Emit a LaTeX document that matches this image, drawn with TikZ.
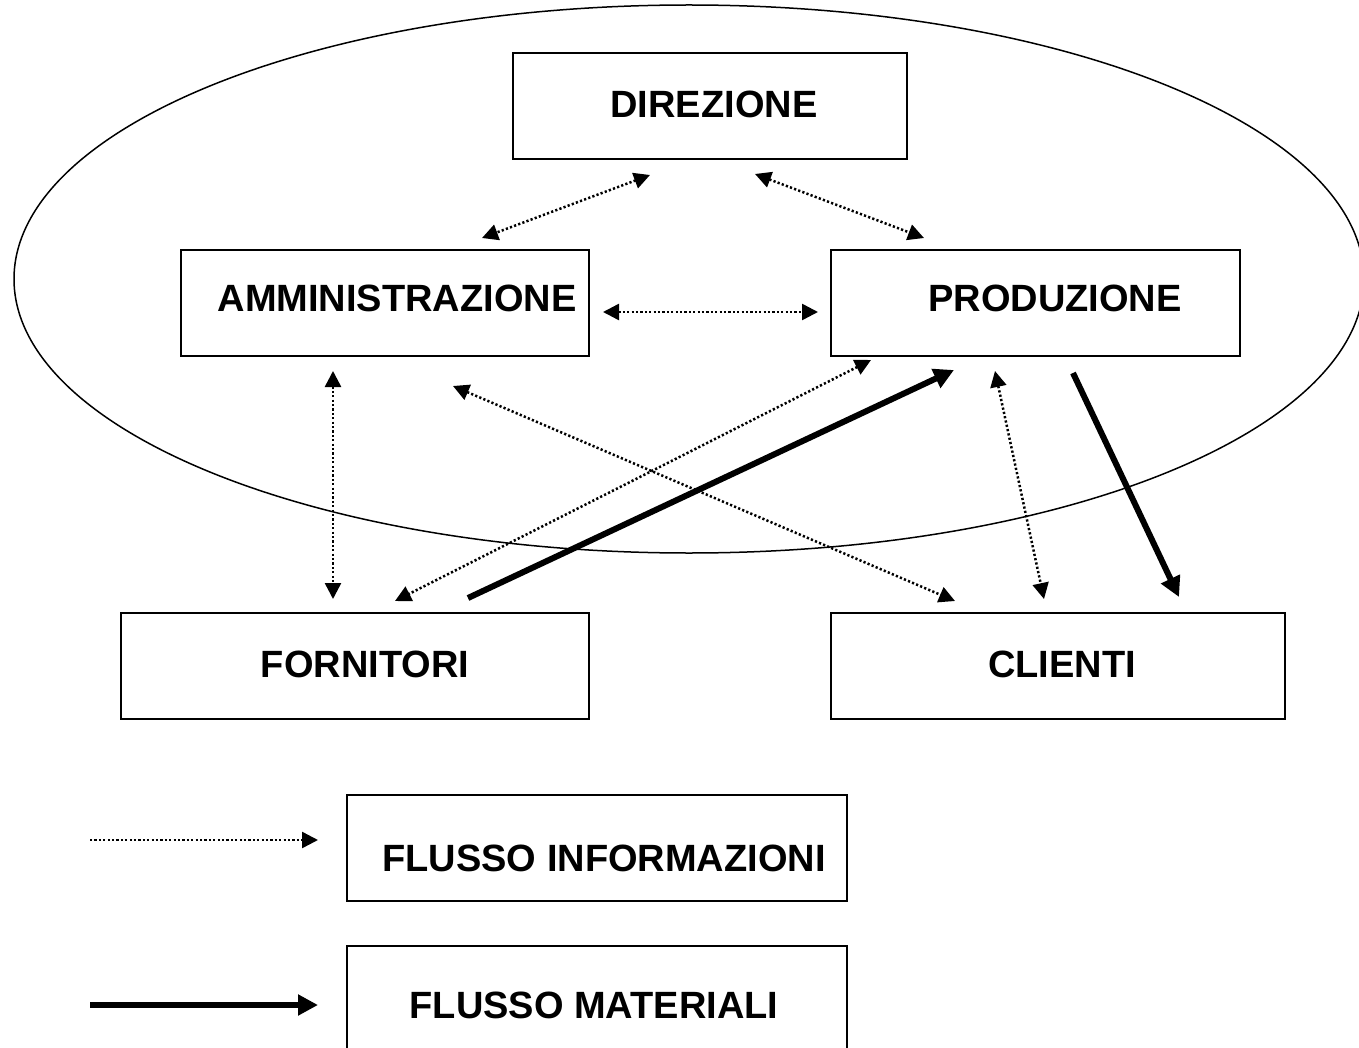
\documentclass[tikz,border=0pt]{standalone}
\usepackage{fontspec}
\setmainfont{Liberation Sans}
\usetikzlibrary{arrows.meta}
\begin{document}
\begin{tikzpicture}[x=0.5pt,y=-0.5pt,
  box/.style={draw,line width=1pt,inner sep=0pt},
  lbl/.style={inner sep=0pt,anchor=center,font=\fontsize{19}{23}\selectfont\bfseries},
  info/.style={line width=1.25pt,dash pattern=on 1.1pt off 1.1pt,{Triangle[length=8pt,width=8pt]}-{Triangle[length=8pt,width=8pt]}},
  infoone/.style={line width=1.25pt,dash pattern=on 1.1pt off 1.1pt,-{Triangle[length=8pt,width=8pt]}},
  mat/.style={line width=3pt,-{Triangle[length=10pt,width=10pt]}}]
\useasboundingbox (0,0) rectangle (1359,1048);
\fill[white] (0,0) rectangle (1359,1048);
% ellipse
\draw[line width=0.75pt] (689,279) ellipse [x radius=675, y radius=274];
% boxes
\node[box,minimum width=197pt,minimum height=53pt] (dir) at (710,106) {};
\node[box,minimum width=204pt,minimum height=53pt] (amm) at (385,303) {};
\node[box,minimum width=204.5pt,minimum height=53pt] (prod) at (1035.5,303) {};
\node[box,minimum width=234pt,minimum height=53pt] (forn) at (355,666) {};
\node[box,minimum width=227pt,minimum height=53pt] (cli) at (1058,666) {};
\node[box,minimum width=250pt,minimum height=53pt] (finf) at (597,848) {};
\node[box,minimum width=250pt,minimum height=54pt] (fmat) at (597,1000) {};
% labels
\node[lbl] (tdir) at (714,104) {DIREZIONE};
\node[lbl] (tamm) at (397,298) {AMMINISTRAZIONE};
\node[lbl] (tprod) at (1055,298) {PRODUZIONE};
\node[lbl] (tforn) at (365,664) {FORNITORI};
\node[lbl] (tcli) at (1062,664) {CLIENTI};
\node[lbl] (tfinf) at (604,858) {FLUSSO INFORMAZIONI};
\node[lbl] (tfmat) at (594,1005) {FLUSSO MATERIALI};
% connector ends
\coordinate (a1) at (650,175); \coordinate (a2) at (482,238);
\coordinate (b1) at (755,174); \coordinate (b2) at (924,238);
\coordinate (c1) at (603,312); \coordinate (c2) at (818,312);
\coordinate (d1) at (333,371); \coordinate (d2) at (333,599);
\coordinate (e1) at (871,360); \coordinate (e2) at (395,601);
\coordinate (f1) at (453,386); \coordinate (f2) at (955,601);
\coordinate (g1) at (995,371); \coordinate (g2) at (1044,599);
\coordinate (h1) at (468,598); \coordinate (h2) at (954,370);
\coordinate (i1) at (1073,373); \coordinate (i2) at (1179,597);
\coordinate (l1) at (90,840); \coordinate (l2) at (318,840);
\coordinate (m1) at (90,1005); \coordinate (m2) at (318,1005);
% info flows
\draw[info] (a1) -- (a2);
\draw[info] (b1) -- (b2);
\draw[info] (c1) -- (c2);
\draw[info] (d1) -- (d2);
\draw[info] (e1) -- (e2);
\draw[info] (f1) -- (f2);
\draw[info] (g1) -- (g2);
% material flows
\draw[mat] (h1) -- (h2);
\draw[mat] (i1) -- (i2);
% legend
\draw[infoone] (l1) -- (l2);
\draw[mat] (m1) -- (m2);
\end{tikzpicture}
\end{document}
